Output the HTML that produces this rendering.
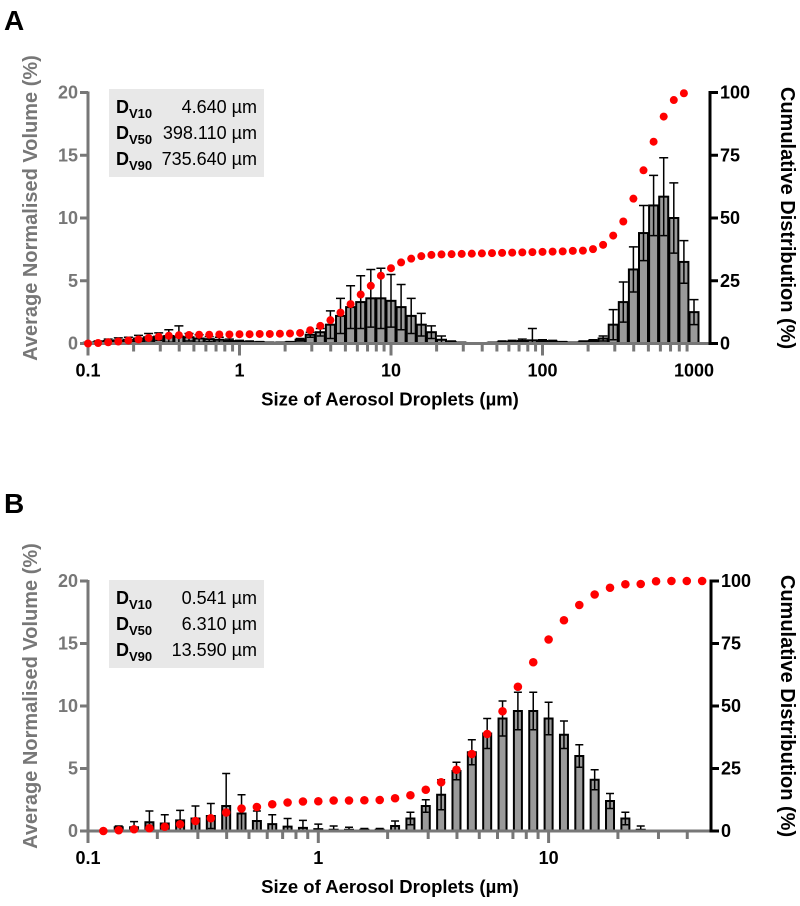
<!DOCTYPE html>
<html><head><meta charset="utf-8"><style>
body{margin:0;background:#fff;}
svg text{font-family:"Liberation Sans",Arial,sans-serif;}
</style></head><body>
<svg id="chart" width="800" height="901" viewBox="0 0 800 901" xmlns="http://www.w3.org/2000/svg">
<text x="4" y="30" font-size="28" font-weight="bold">A</text>
<text x="4" y="513" font-size="28" font-weight="bold">B</text>
</svg>
<script>
// Panel A data (bin index i -> size 10^(-1+i/15) µm)
const aBins = [0,1,2,3,4,5,6,7,8,9,10,11,12,13,14,15,16,17,18,19,20,21,22,23,24,25,26,27,28,29,30,31,32,33,34,35,36,37,38,39,40,41,42,43,44,45,46,47,48,49,50,51,52,53,54,55,56,57,58,59,60];
const aVolume = [0.05,0.1,0.2,0.25,0.3,0.4,0.5,0.55,0.6,0.55,0.5,0.4,0.35,0.3,0.2,0.15,0.1,0.1,0.05,0.05,
 0.1,0.3,0.7,0.9,1.5,2.2,2.9,3.3,3.6,3.6,3.4,2.9,2.2,1.5,0.9,0.3,0.1,
 0.05,0,0,0.05,0.1,0.15,0.2,0.25,0.2,0.15,0.1,0.05,
 0.1,0.2,0.4,1.5,3.3,5.9,8.8,11.0,11.7,10.0,6.5,2.5];
const aError = [0.05,0.1,0.15,0.2,0.2,0.25,0.3,0.3,0.5,0.85,0.3,0.3,0.2,0.2,0.15,0.1,0.1,0.05,0.05,0.05,
 0.05,0.1,0.2,0.3,1.1,1.4,1.7,2.1,2.3,2.4,2.1,1.8,1.4,0.9,0.5,0.3,0.1,
 0.05,0,0,0.05,0.1,0.1,0.15,0.95,0.1,0.1,0.05,0.05,
 0.1,0.1,0.2,1.2,1.6,1.8,2.2,2.4,3.1,2.8,1.7,1.0];
const aCumBins = [0,1,2,3,4,5,6,7,8,9,10,11,12,13,14,15,16,17,18,19,20,21,22,23,24,25,26,27,28,29,30,31,32,33,34,35,36,37,38,39,40,41,42,43,44,45,46,47,48,49,50,51,52,53,54,55,56,57,58,59];
const aCumulative = [0,0.2,0.5,0.8,1.2,1.6,2.2,2.7,3.1,3.3,3.4,3.5,3.5,3.6,3.6,3.7,3.7,3.8,3.8,3.9,
 4.0,4.2,5.3,7,9.3,12.3,15.7,19.5,23,27,30,32.3,33.8,34.8,35.3,35.5,35.6,
 35.7,35.8,35.9,36,36.1,36.2,36.3,36.4,36.5,36.6,36.7,36.9,
 37,37.6,39.3,43,48.6,57.7,69,80.4,90.4,97,99.7];
// Panel B data
const bBins = [2,3,4,5,6,7,8,9,10,11,12,13,14,15,16,17,18,19,20,21,22,23,24,25,26,27,28,29,30,31,32,33,34,35,36];
const bVolume = [0.3,0.3,0.7,0.6,0.85,1.0,1.2,2.0,1.4,0.8,0.55,0.35,0.25,0.15,0.1,0.1,0.1,0.1,0.4,1.0,2.0,2.9,4.8,6.3,7.8,9.0,9.6,9.6,9.0,7.7,6.0,4.1,2.4,1.0,0.1];
const bError = [0.1,0.45,0.9,0.7,0.8,1.0,1.0,2.6,1.5,0.8,0.75,0.65,0.6,0.4,0.3,0.2,0.1,0.1,0.4,0.5,0.5,1.2,0.7,1.0,1.2,1.4,1.5,1.5,1.3,1.1,0.9,0.8,0.6,0.5,0.3];
const bCumBins = [1,2,3,4,5,6,7,8,9,10,11,12,13,14,15,16,17,18,19,20,21,22,23,24,25,26,27,28,29,30,31,32,33,34,35,36,37,38,39,40];
const bCumulative = [0,0.3,0.7,1.1,1.7,2.7,4,5.1,7.4,9,9.6,10.7,11.4,11.8,11.9,12.2,12.2,12.3,12.4,13.1,14.3,16.5,19.5,24.5,30.8,38.8,47.9,57.7,67.5,76.6,84.3,90.4,94.6,97.3,98.7,98.8,99.9,100,100,100];
const leftTicks = [0,5,10,15,20];
const rightTicks = [0,25,50,75,100];
const aXTickLabels = ["0.1","1","10","100","1000"];
const bXTickLabels = ["0.1","1","10"];
const aStats = [["10","4.640"],["50","398.110"],["90","735.640"]];
const bStats = [["10","0.541"],["50","6.310"],["90","13.590"]];

const NS="http://www.w3.org/2000/svg";
const svg=document.getElementById('chart');
function mk(tag,attrs,parent,text){const e=document.createElementNS(NS,tag);for(const k in attrs)e.setAttribute(k,attrs[k]);if(text!==undefined)e.textContent=text;(parent||svg).appendChild(e);return e;}
function binSize(i){return Math.pow(10,-1+i/15);}

function panel(p){
  const g=mk('g',{});
  
  
  const xs=v=>p.x0+(Math.log10(v)+1)*p.dec;
  const ys=v=>p.y0-(v/20)*(p.y0-p.y20);
  const yr=v=>p.y0-(v/100)*(p.y0-p.y20);
  const gray='#777';
  p.bins.forEach((b,k)=>{
    const cx=xs(binSize(b)), v=p.vol[k], e=p.err[k];
    const top=ys(v);
    if(v>0){
      const r=mk('rect',{x:cx-p.bw/2,y:top,width:p.bw,height:Math.max(ys(0)-top,0.5),fill:'#9a9a9a',stroke:'#000','stroke-width':2},g);
      
      
    }
    if(e>0){
      const lo=ys(Math.max(v-e,0)), hi=ys(v+e);
      const l=mk('path',{d:`M${cx} ${lo}V${hi}M${cx-p.bw/2} ${hi}H${cx+p.bw/2}M${cx-p.bw/2+1} ${lo}H${cx+p.bw/2-1}`,stroke:'#000','stroke-width':1.5,fill:'none'},g);
      
      
    }
  });
  const ax=mk('line',{x1:p.x0,y1:p.y0,x2:p.xr,y2:p.y0,stroke:gray,'stroke-width':3},g);
  
  
  for(let d=-1;d<=p.maxDec;d++){
    for(let m=1;m<=9;m++){
      const v=m*Math.pow(10,d); const x=xs(v);
      if(x>p.xr-2||x<p.x0-1) continue;
      mk('line',{x1:x,y1:p.y0,x2:x,y2:p.y0+(m===1?12:8),stroke:gray,'stroke-width':3},g);
    }
  }
  p.xlabels.forEach((t,k)=>{
    const tx=mk('text',{x:xs(Math.pow(10,k-1)),y:p.y0+33,'font-size':18,'font-weight':'bold','text-anchor':'middle',fill:'#000'},g,t);
    
    
  });
  const la=mk('line',{x1:p.x0,y1:p.y20-1,x2:p.x0,y2:p.y0+1.5,stroke:gray,'stroke-width':3},g);
  
  
  leftTicks.forEach(t=>{
    mk('line',{x1:p.x0-8,y1:ys(t),x2:p.x0,y2:ys(t),stroke:gray,'stroke-width':3},g);
    const tx=mk('text',{x:p.x0-10,y:ys(t)+6,'font-size':18,'font-weight':'bold','text-anchor':'end',fill:gray},g,String(t));
    
    
  });
  const ra=mk('line',{x1:p.xr,y1:p.y20-1.5,x2:p.xr,y2:p.y0+1.5,stroke:'#000','stroke-width':3},g);
  
  
  rightTicks.forEach(t=>{
    mk('line',{x1:p.xr,y1:yr(t),x2:p.xr+8,y2:yr(t),stroke:'#000','stroke-width':3},g);
    const tx=mk('text',{x:p.xr+10,y:yr(t)+6,'font-size':18,'font-weight':'bold',fill:'#000'},g,String(t));
    
    
  });
  p.cbins.forEach((b,k)=>{
    const c=mk('circle',{cx:xs(binSize(b)),cy:yr(p.cum[k]),r:p.dr,fill:'#ff0000'},g);
    
    
  });
  const yc=(p.y0+p.y20)/2;
  const lt=mk('text',{x:0,y:0,transform:`translate(37,${yc-10}) rotate(-90)`,'font-size':20,'font-weight':'bold','text-anchor':'middle',fill:gray},g,'Average Normalised Volume (%)');
  
  
  const rt=mk('text',{x:0,y:0,transform:`translate(781,${yc}) rotate(90)`,'font-size':20,'font-weight':'bold','text-anchor':'middle',fill:'#000'},g,'Cumulative Distribution (%)');
  
  
  const xt=mk('text',{x:390,y:p.y0+62,'font-size':18.5,'font-weight':'bold','text-anchor':'middle',fill:'#000'},g,'Size of Aerosol Droplets (µm)');
  
  
  const bx=mk('g',{},g);
  
  
  mk('rect',{x:109,y:p.boxY,width:155,height:88,fill:'#e8e8e8'},bx);
  p.stats.forEach((s,k)=>{
    const yy=p.boxY+24+k*26;
    const t=mk('text',{x:116,y:yy,'font-size':18,'font-weight':'bold',fill:'#000'},bx);
    
    
    mk('tspan',{},t,'D');
    mk('tspan',{dy:5,'font-size':13},t,'V'+s[0]);
    const v=mk('text',{x:257,y:yy,'font-size':18,'text-anchor':'end',fill:'#000'},bx,s[1]+' µm');
    
    
  });
}
panel({name:'panel-a-chart',x0:88,dec:151.5,xr:710,maxDec:2,y0:343.5,y20:92.5,bw:9,dr:4,
  bins:aBins,vol:aVolume,err:aError,cbins:aCumBins,cum:aCumulative,xlabels:aXTickLabels,stats:aStats,boxY:89});
panel({name:'panel-b-chart',x0:88,dec:230.3,xr:711,maxDec:1,y0:831,y20:581,bw:8,dr:4.3,
  bins:bBins,vol:bVolume,err:bError,cbins:bCumBins,cum:bCumulative,xlabels:bXTickLabels,stats:bStats,boxY:580});
</script>
</body></html>
